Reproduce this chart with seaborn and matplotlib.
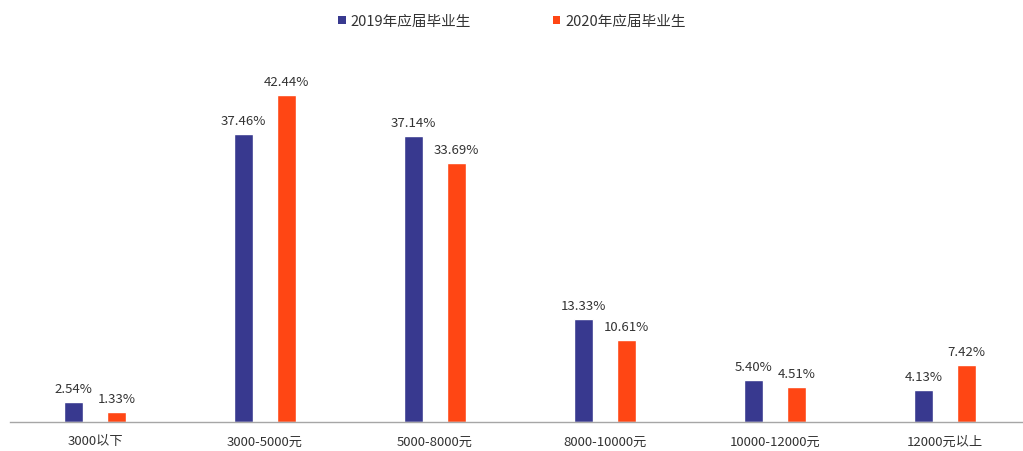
import matplotlib
matplotlib.use("Agg")
import matplotlib.pyplot as plt
import seaborn as sns
import pandas as pd
import numpy as np
from matplotlib.patches import Patch

categories = ["3000以下", "3000-5000元", "5000-8000元", "8000-10000元", "10000-12000元", "12000元以上"]
series_names = ["2019年应届毕业生", "2020年应届毕业生"]
values_2019 = [2.54, 37.46, 37.14, 13.33, 5.40, 4.13]
values_2020 = [1.33, 42.44, 33.69, 10.61, 4.51, 7.42]

colors = ["#38398F", "#FF4614"]

df = pd.DataFrame({
    "cat": categories * 2,
    "series": [series_names[0]] * 6 + [series_names[1]] * 6,
    "val": values_2019 + values_2020,
})

sns.set_theme(style="white")
plt.rcParams['font.family'] = ['Noto Sans CJK SC', 'DejaVu Sans']

fig = plt.figure(figsize=(10.23, 4.52), dpi=100)
left_px = 10
ax = fig.add_axes([left_px / 1023, 29 / 452, 1 - left_px / 1023, (423 - 38) / 452])

sns.barplot(data=df, x="cat", y="val", hue="series", order=categories,
            hue_order=series_names, palette=colors, width=0.51, ax=ax,
            legend=False, saturation=1)

bw = 0.112
for p in ax.patches:
    c = p.get_x() + p.get_width() / 2
    p.set_width(bw)
    p.set_x(c - bw / 2)

for cont in ax.containers:
    ax.bar_label(cont, labels=[f"{v:.2f}%" for v in cont.datavalues],
                 padding=5, fontsize=9.5, color="#333333")

ax.set_xlim(-0.5, (1023 - left_px) / 170 - 0.5)
ax.set_ylim(0, 50)
ax.set_xlabel("")
ax.set_ylabel("")
ax.set_yticks([])
for s in ["top", "right", "left"]:
    ax.spines[s].set_visible(False)
ax.spines["bottom"].set_color("#A6A6A6")
ax.spines["bottom"].set_linewidth(1)
ax.set_xticks(range(len(categories)))
ax.set_xticklabels(categories)
ax.tick_params(axis="x", length=0, pad=9, labelsize=9.5, labelcolor="#333333")
ax.set_xticks(np.arange(len(categories)) - 0.5, minor=True)
ax.tick_params(axis="x", which="minor", length=4, direction="in", color="#A6A6A6", width=1)

handles = [Patch(facecolor=c, edgecolor="none") for c in colors]
fig.legend(handles, series_names, loc="center", bbox_to_anchor=(512 / 1023, 1 - 22 / 452),
           ncol=2, frameon=False, fontsize=10.5, handlelength=0.5, handleheight=0.5,
           handletextpad=0.35, columnspacing=5.6, labelcolor="#333333")

fig.savefig("out.png", dpi=100)
